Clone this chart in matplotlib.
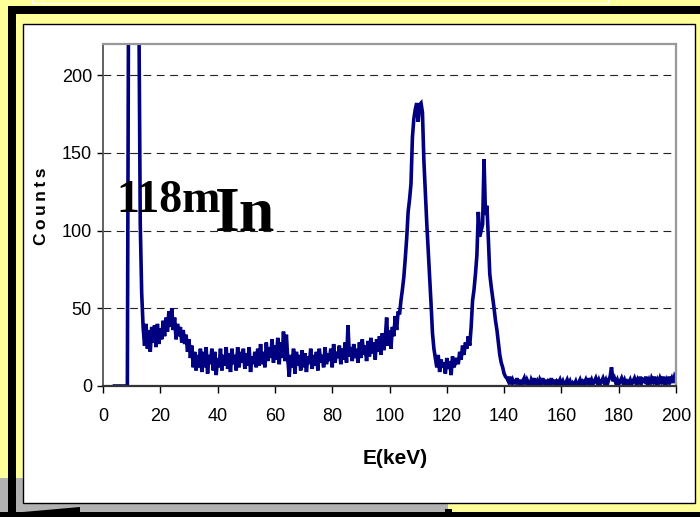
import numpy as np
import matplotlib
matplotlib.use('Agg')
import matplotlib.pyplot as plt
from matplotlib.patches import Rectangle, Polygon

# spectrum of 118mIn, one value every 0.5 keV from 4 keV to 200 keV
e_start = 4.0
e_step = 0.5
counts = [
    0, 0, 0, 0, 0, 0, 0, 0, 0, 0,                  # 4.0 - 8.5
    300, 300, 300, 300, 300, 300, 300, 250, 105, 60,  # 9.0 - 13.5
    38, 26, 40, 24, 36, 22, 38, 28, 39, 25,        # 14.0 - 18.5
    40, 27, 37, 30, 42, 32, 44, 35, 48, 38,        # 19.0 - 23.5
    50, 36, 44, 30, 40, 32, 38, 28, 36, 27,        # 24.0 - 28.5
    33, 22, 30, 18, 26, 12, 22, 10, 20, 12,        # 29.0 - 33.5
    24, 9, 22, 12, 25, 8, 20, 14, 24, 10,          # 34.0 - 38.5
    22, 7, 18, 12, 24, 10, 20, 13, 25, 11,         # 39.0 - 43.5
    21, 9, 24, 14, 20, 10, 25, 12, 22, 15,         # 44.0 - 48.5
    24, 11, 21, 13, 25, 9, 19, 14, 22, 12,         # 49.0 - 53.5
    24, 13, 27, 14, 22, 12, 28, 16, 25, 18,        # 54.0 - 58.5
    30, 15, 26, 17, 31, 14, 28, 18, 35, 16,        # 59.0 - 63.5
    33, 17, 6, 20, 12, 24, 8, 22, 13, 20,          # 64.0 - 68.5
    10, 23, 12, 21, 9, 19, 14, 24, 11, 20,         # 69.0 - 73.5
    13, 22, 10, 24, 15, 20, 12, 25, 14, 21,        # 74.0 - 78.5
    16, 24, 12, 27, 15, 22, 18, 26, 14, 24,        # 79.0 - 83.5
    17, 28, 15, 39, 19, 25, 16, 27, 18, 24,        # 84.0 - 88.5
    15, 28, 18, 30, 20, 26, 16, 29, 19, 31,        # 89.0 - 93.5
    21, 28, 17, 30, 22, 32, 20, 34, 23, 30,        # 94.0 - 98.5
    44, 26, 36, 24, 38, 32, 45, 36, 48, 46,        # 99.0 - 103.5
    55, 62, 70, 82, 95, 112, 120, 130, 160, 172,   # 104.0 - 108.5
    178, 182, 170, 181, 182, 176, 145, 125, 105, 88,  # 109.0 - 113.5
    70, 53, 34, 24, 18, 12, 20, 9, 17, 12,         # 114.0 - 118.5
    15, 8, 18, 11, 16, 7, 19, 12, 15, 18,          # 119.0 - 123.5
    14, 22, 17, 26, 20, 28, 24, 32, 26, 38,        # 124.0 - 128.5
    55, 62, 72, 84, 112, 96, 100, 104, 146, 110,   # 129.0 - 133.5
    116, 95, 72, 64, 57, 50, 42, 36, 28, 20,       # 134.0 - 138.5
    15, 12, 8, 6, 5, 3, 6, 1, 4, 2,                # 139.0 - 143.5
    2, 5, 1, 4, 0, 3, 5, 1, 4, 2,                  # 144.0 - 148.5
    0, 4, 2, 5, 1, 3, 0, 4, 2, 5,                  # 149.0 - 153.5
    1, 4, 0, 3, 2, 5, 1, 4, 0, 3,                  # 154.0 - 158.5
    2, 4, 1, 3, 0, 2, 4, 1, 3, 0,                  # 159.0 - 163.5
    2, 1, 3, 0, 2, 4, 1, 3, 2, 4,                  # 164.0 - 168.5
    1, 5, 2, 4, 1, 3, 5, 2, 4, 1,                  # 169.0 - 173.5
    3, 5, 2, 4, 1, 4, 6, 12, 3, 5,                 # 174.0 - 178.5
    2, 4, 1, 3, 5, 2, 4, 1, 3, 2,                  # 179.0 - 183.5
    4, 1, 3, 5, 2, 4, 1, 6, 2, 4,                  # 184.0 - 188.5
    3, 6, 2, 4, 1, 5, 3, 6, 2, 4,                  # 189.0 - 193.5
    1, 5, 3, 6, 2, 4, 1, 6, 3, 5,                  # 194.0 - 198.5
    2, 6, 4,                                       # 199.0 - 200.0
]
x_ticks = [0, 20, 40, 60, 80, 100, 120, 140, 160, 180, 200]
y_ticks = [0, 50, 100, 150, 200]

energy = e_start + e_step * np.arange(len(counts))

W, H = 700, 517
sans = ['Liberation Sans Narrow', 'Liberation Sans', 'DejaVu Sans']
serif = ['Liberation Serif', 'DejaVu Serif']

fig = plt.figure(figsize=(7, 5.17), dpi=100, facecolor='#FFFF99')

def px_rect(x0, y0, x1, y1, z, **kw):
    r = Rectangle((x0 / W, 1 - y1 / H), (x1 - x0) / W, (y1 - y0) / H,
                  transform=fig.transFigure, figure=fig, zorder=z, **kw)
    fig.patches.append(r)

# slide decoration round the chart
px_rect(32, -5, 608, 3, -10, fill=False, edgecolor='white', lw=1)
px_rect(0, 478, 448, 517, -10, facecolor='#B2B2B2', edgecolor='none')
px_rect(8, 6, 700, 14, -9, facecolor='black', edgecolor='none')
px_rect(8, 6, 16, 517, -9, facecolor='black', edgecolor='none')
px_rect(0, 512, 700, 517, -9, facecolor='black', edgecolor='none')
px_rect(445, 509, 452, 513, -9, facecolor='black', edgecolor='none')
fig.patches.append(Polygon([(23 / W, 1 - 512 / H), (80 / W, 1 - 507 / H), (80 / W, 1 - 512 / H)],
                           closed=True, transform=fig.transFigure, figure=fig,
                           facecolor='black', edgecolor='none', zorder=-9))
px_rect(23, 24, 695, 503, -8, facecolor='white', edgecolor='black', lw=1)

ax = fig.add_axes([103 / W, 1 - 386 / H, 573 / W, 342 / H])
ax.plot(energy, counts, color='#000080', lw=2.6, solid_joinstyle='miter')
ax.set_xlim(0, 200)
ax.set_ylim(0, 220)
ax.set_xticks(x_ticks)
ax.set_yticks(y_ticks)
ax.set_xticklabels([str(v) for v in x_ticks], family=sans, fontsize=13)
ax.set_yticklabels([str(v) for v in y_ticks], family=sans, fontsize=13)
ax.tick_params(axis='y', direction='out', length=4, width=1, pad=4)
ax.tick_params(axis='x', direction='out', length=5, width=1, pad=11)
ax.yaxis.grid(True, color='#222222', lw=0.8, dashes=(7, 5))
ax.set_axisbelow(True)
ax.spines['top'].set_color('#999999')
ax.spines['right'].set_color('#999999')
ax.spines['top'].set_linewidth(1.6)
ax.spines['right'].set_linewidth(1.6)
ax.spines['left'].set_color('#555555')
ax.spines['left'].set_linewidth(1.3)
ax.spines['bottom'].set_color('#333333')
ax.spines['bottom'].set_linewidth(1.6)

fig.text(395 / W, 1 - 458 / H, 'E(keV)', family=sans, fontsize=15, fontweight='bold',
         ha='center', va='center')
fig.text(42 / W, 1 - 206 / H, '\u2009'.join('Counts'), family=sans, fontsize=12.5,
         fontweight='bold', rotation=90, ha='center', va='center')
fig.text(116 / W, 1 - 212 / H, '118m', family=serif, fontsize=33, fontweight='bold',
         ha='left', va='baseline')
fig.text(215 / W, 1 - 231 / H, 'In', family=serif, fontsize=46, fontweight='bold',
         ha='left', va='baseline')

fig.savefig('out.png', dpi=100, facecolor=fig.get_facecolor())
